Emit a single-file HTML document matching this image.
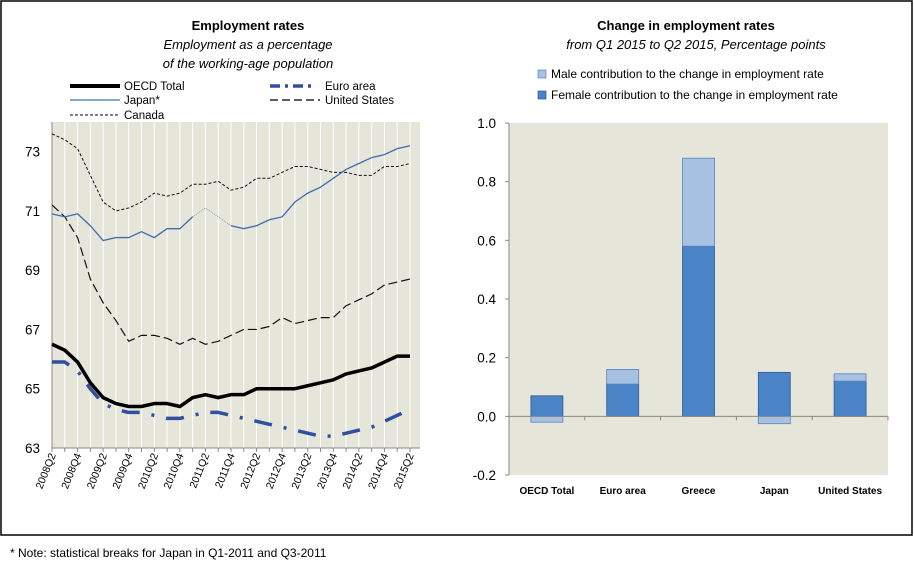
<!DOCTYPE html>
<html><head><meta charset="utf-8">
<style>
body{margin:0;background:#fff;font-family:"Liberation Sans",sans-serif;}
#wrap{position:relative;width:914px;height:573px;overflow:hidden;}
svg text{font-family:"Liberation Sans",sans-serif;}
</style></head>
<body>
<div id="wrap">
<svg id="svg" width="914" height="573" xmlns="http://www.w3.org/2000/svg">
<rect x="1" y="1" width="911" height="534" fill="#fff" stroke="#000" stroke-width="1.5"/>
<text x="248" y="30" text-anchor="middle" font-size="13" font-weight="bold">Employment rates</text>
<text x="248" y="49" text-anchor="middle" font-size="13" font-style="italic">Employment as a percentage</text>
<text x="248" y="68" text-anchor="middle" font-size="13" font-style="italic">of the working-age population</text>
<g font-size="11.5">
<line x1="70" y1="86" x2="120" y2="86" stroke="#000" stroke-width="4"/>
<text x="124" y="90">OECD Total</text>
<line x1="70" y1="100" x2="120" y2="100" stroke="#3a6fb0" stroke-width="1.2"/>
<text x="124" y="104">Japan*</text>
<line x1="70" y1="115" x2="120" y2="115" stroke="#000" stroke-width="1" stroke-dasharray="3,2"/>
<text x="124" y="119">Canada</text>
<line x1="270" y1="86" x2="312" y2="86" stroke="#2f4fa0" stroke-width="3.5" stroke-dasharray="10,5,3,5"/>
<text x="325" y="90">Euro area</text>
<line x1="270" y1="100" x2="320" y2="100" stroke="#000" stroke-width="1.2" stroke-dasharray="8,4"/>
<text x="325" y="104">United States</text>
</g>
<text x="686" y="30" text-anchor="middle" font-size="13" font-weight="bold">Change in employment rates</text>
<text x="696" y="49" text-anchor="middle" font-size="13" font-style="italic">from Q1 2015 to Q2 2015, Percentage points</text>
<rect x="538" y="70" width="8" height="8" fill="#a7c1e3" stroke="#5b82bd" stroke-width="0.7"/>
<text x="551" y="78" font-size="12">Male contribution to the change in employment rate</text>
<rect x="538" y="91" width="8" height="8" fill="#4a83c6" stroke="#2d5a9a" stroke-width="0.7"/>
<text x="551" y="99" font-size="12">Female contribution to the change in employment rate</text>
<text x="10" y="557" font-size="12">* Note: statistical breaks for Japan in Q1-2011 and Q3-2011</text>
<g id="left"></g><g id="right"></g>
</svg>
</div>
<script>
const quarters=["2008Q2","2008Q3","2008Q4","2009Q1","2009Q2","2009Q3","2009Q4","2010Q1","2010Q2","2010Q3","2010Q4","2011Q1","2011Q2","2011Q3","2011Q4","2012Q1","2012Q2","2012Q3","2012Q4","2013Q1","2013Q2","2013Q3","2013Q4","2014Q1","2014Q2","2014Q3","2014Q4","2015Q1","2015Q2"];
const oecd=[66.5,66.3,65.9,65.2,64.7,64.5,64.4,64.4,64.5,64.5,64.4,64.7,64.8,64.7,64.8,64.8,65.0,65.0,65.0,65.0,65.1,65.2,65.3,65.5,65.6,65.7,65.9,66.1,66.1];
const euro=[65.9,65.9,65.6,65.0,64.5,64.3,64.2,64.2,64.1,64.0,64.0,64.1,64.2,64.2,64.1,64.0,63.9,63.8,63.7,63.6,63.5,63.4,63.4,63.5,63.6,63.7,63.9,64.1,64.3];
const japan=[70.9,70.8,70.9,70.5,70.0,70.1,70.1,70.3,70.1,70.4,70.4,70.8,71.1,70.8,70.5,70.4,70.5,70.7,70.8,71.3,71.6,71.8,72.1,72.4,72.6,72.8,72.9,73.1,73.2];
const canada=[73.6,73.4,73.1,72.2,71.3,71.0,71.1,71.3,71.6,71.5,71.6,71.9,71.9,72.0,71.7,71.8,72.1,72.1,72.3,72.5,72.5,72.4,72.3,72.3,72.2,72.2,72.5,72.5,72.6];
const us=[71.2,70.8,70.1,68.7,67.9,67.3,66.6,66.8,66.8,66.7,66.5,66.7,66.5,66.6,66.8,67.0,67.0,67.1,67.4,67.2,67.3,67.4,67.4,67.8,68.0,68.2,68.5,68.6,68.7];
const leftTicks=[63,65,67,69,71,73];
const countries=["OECD Total","Euro area","Greece","Japan","United States"];
const female=[0.07,0.11,0.58,0.15,0.12];
const male=[-0.02,0.05,0.30,-0.025,0.025];
const rightTicks=[-0.2,0.0,0.2,0.4,0.6,0.8,1.0];

const NS="http://www.w3.org/2000/svg";
function mk(parent,tag,attrs){const e=document.createElementNS(NS,tag);for(const k in attrs)e.setAttribute(k,attrs[k]);parent.appendChild(e);return e;}
const L=document.getElementById('left');
const lx0=52,lx1=420,ly0=122,ly1=448,ymin=63,ymax=74;
const lx=i=>lx0+i*(410-lx0)/(quarters.length-1);
const ly=v=>ly1-(v-ymin)/(ymax-ymin)*(ly1-ly0);
let bg=mk(L,'rect',{x:lx0,y:ly0,width:lx1-lx0,height:ly1-ly0,fill:'#e6e5da'});


quarters.forEach((q,i)=>{
  if(i>0){let g=mk(L,'line',{x1:lx(i),x2:lx(i),y1:ly0,y2:ly1,stroke:'#fff','stroke-width':1});
  
  }
  mk(L,'line',{x1:lx(i),x2:lx(i),y1:ly1,y2:ly1+4,stroke:'#888'});
  if(i%2===0){let t=mk(L,'text',{x:0,y:0,'font-size':10.5,'text-anchor':'end',transform:`translate(${lx(i)+4},${ly1+7}) rotate(-68)`});
  t.textContent=q;
  
  }
});
mk(L,'line',{x1:lx0,x2:lx1,y1:ly1,y2:ly1,stroke:'#888'});
mk(L,'line',{x1:lx0,x2:lx0,y1:ly0,y2:ly1,stroke:'#888'});
leftTicks.forEach(v=>{let t=mk(L,'text',{x:lx0-12,y:ly(v)+5,'font-size':13.5,'text-anchor':'end'});t.textContent=v;

});
function pts(arr,a,b){let s=[];for(let i=a;i<=b;i++)s.push(lx(i)+','+ly(arr[i]));return s.join(' ');}
function series(arr,st,name){let p=mk(L,'polyline',Object.assign({points:pts(arr,0,arr.length-1),fill:'none','stroke-linejoin':'round'},st));

return p;}
series(canada,{stroke:'#111','stroke-width':1,'stroke-dasharray':'3,2'},'canada-line');
series(us,{stroke:'#111','stroke-width':1.2,'stroke-dasharray':'9,4'},'us-line');
let j1=mk(L,'polyline',{points:pts(japan,0,11),fill:'none',stroke:'#3a6fb0','stroke-width':1.3});


let j2=mk(L,'polyline',{points:pts(japan,11,14),fill:'none',stroke:'#8aa',"stroke-width":1,'stroke-dasharray':'1,1'});


let j3=mk(L,'polyline',{points:pts(japan,14,28),fill:'none',stroke:'#3a6fb0','stroke-width':1.3});


series(euro,{stroke:'#2f4fa0','stroke-width':3.5,'stroke-dasharray':'18,12,3,12'},'euro-line');
series(oecd,{stroke:'#000','stroke-width':3.5},'oecd-line');
const R=document.getElementById('right');
const rx0=509,rx1=888,ry0=123,ry1=475,rmin=-0.2,rmax=1.0;
const ry=v=>ry1-(v-rmin)/(rmax-rmin)*(ry1-ry0);
const cw=(rx1-rx0)/countries.length;
let rb=mk(R,'rect',{x:rx0,y:ry0,width:rx1-rx0,height:ry1-ry0,fill:'#e6e5da'});


mk(R,'line',{x1:rx0,x2:rx0,y1:ry0,y2:ry1,stroke:'#888'});
rightTicks.forEach(v=>{mk(R,'line',{x1:rx0-4,x2:rx0,y1:ry(v),y2:ry(v),stroke:'#888'});
let t=mk(R,'text',{x:rx0-13,y:ry(v)+5,'font-size':13.5,'text-anchor':'end'});t.textContent=v.toFixed(1);

});
countries.forEach((c,i)=>{
  const cx=rx0+cw*(i+0.5),bw=32;
  let f=female[i],m=male[i];
  let fr=mk(R,'rect',{x:cx-bw/2,y:ry(Math.max(f,0)),width:bw,height:Math.abs(ry(f)-ry(0)),fill:'#4a83c6',stroke:'#2d5a9a','stroke-width':0.8});
  
  
  let base=m>=0?f:0;
  let mr=mk(R,'rect',{x:cx-bw/2,y:m>=0?ry(base+m):ry(0),width:bw,height:Math.abs(ry(m)-ry(0)),fill:'#a7c1e3',stroke:'#5b82bd','stroke-width':0.8});
  
  
  mk(R,'line',{x1:rx0+cw*(i+1),x2:rx0+cw*(i+1),y1:ry(0),y2:ry(0)+4,stroke:'#888'});
  let t=mk(R,'text',{x:cx,y:ry1+19,'font-size':10,'font-weight':'bold','text-anchor':'middle'});t.textContent=c;
  
  
});
mk(R,'line',{x1:rx0,x2:rx1,y1:ry(0),y2:ry(0),stroke:'#888'});
</script>
</body></html>
